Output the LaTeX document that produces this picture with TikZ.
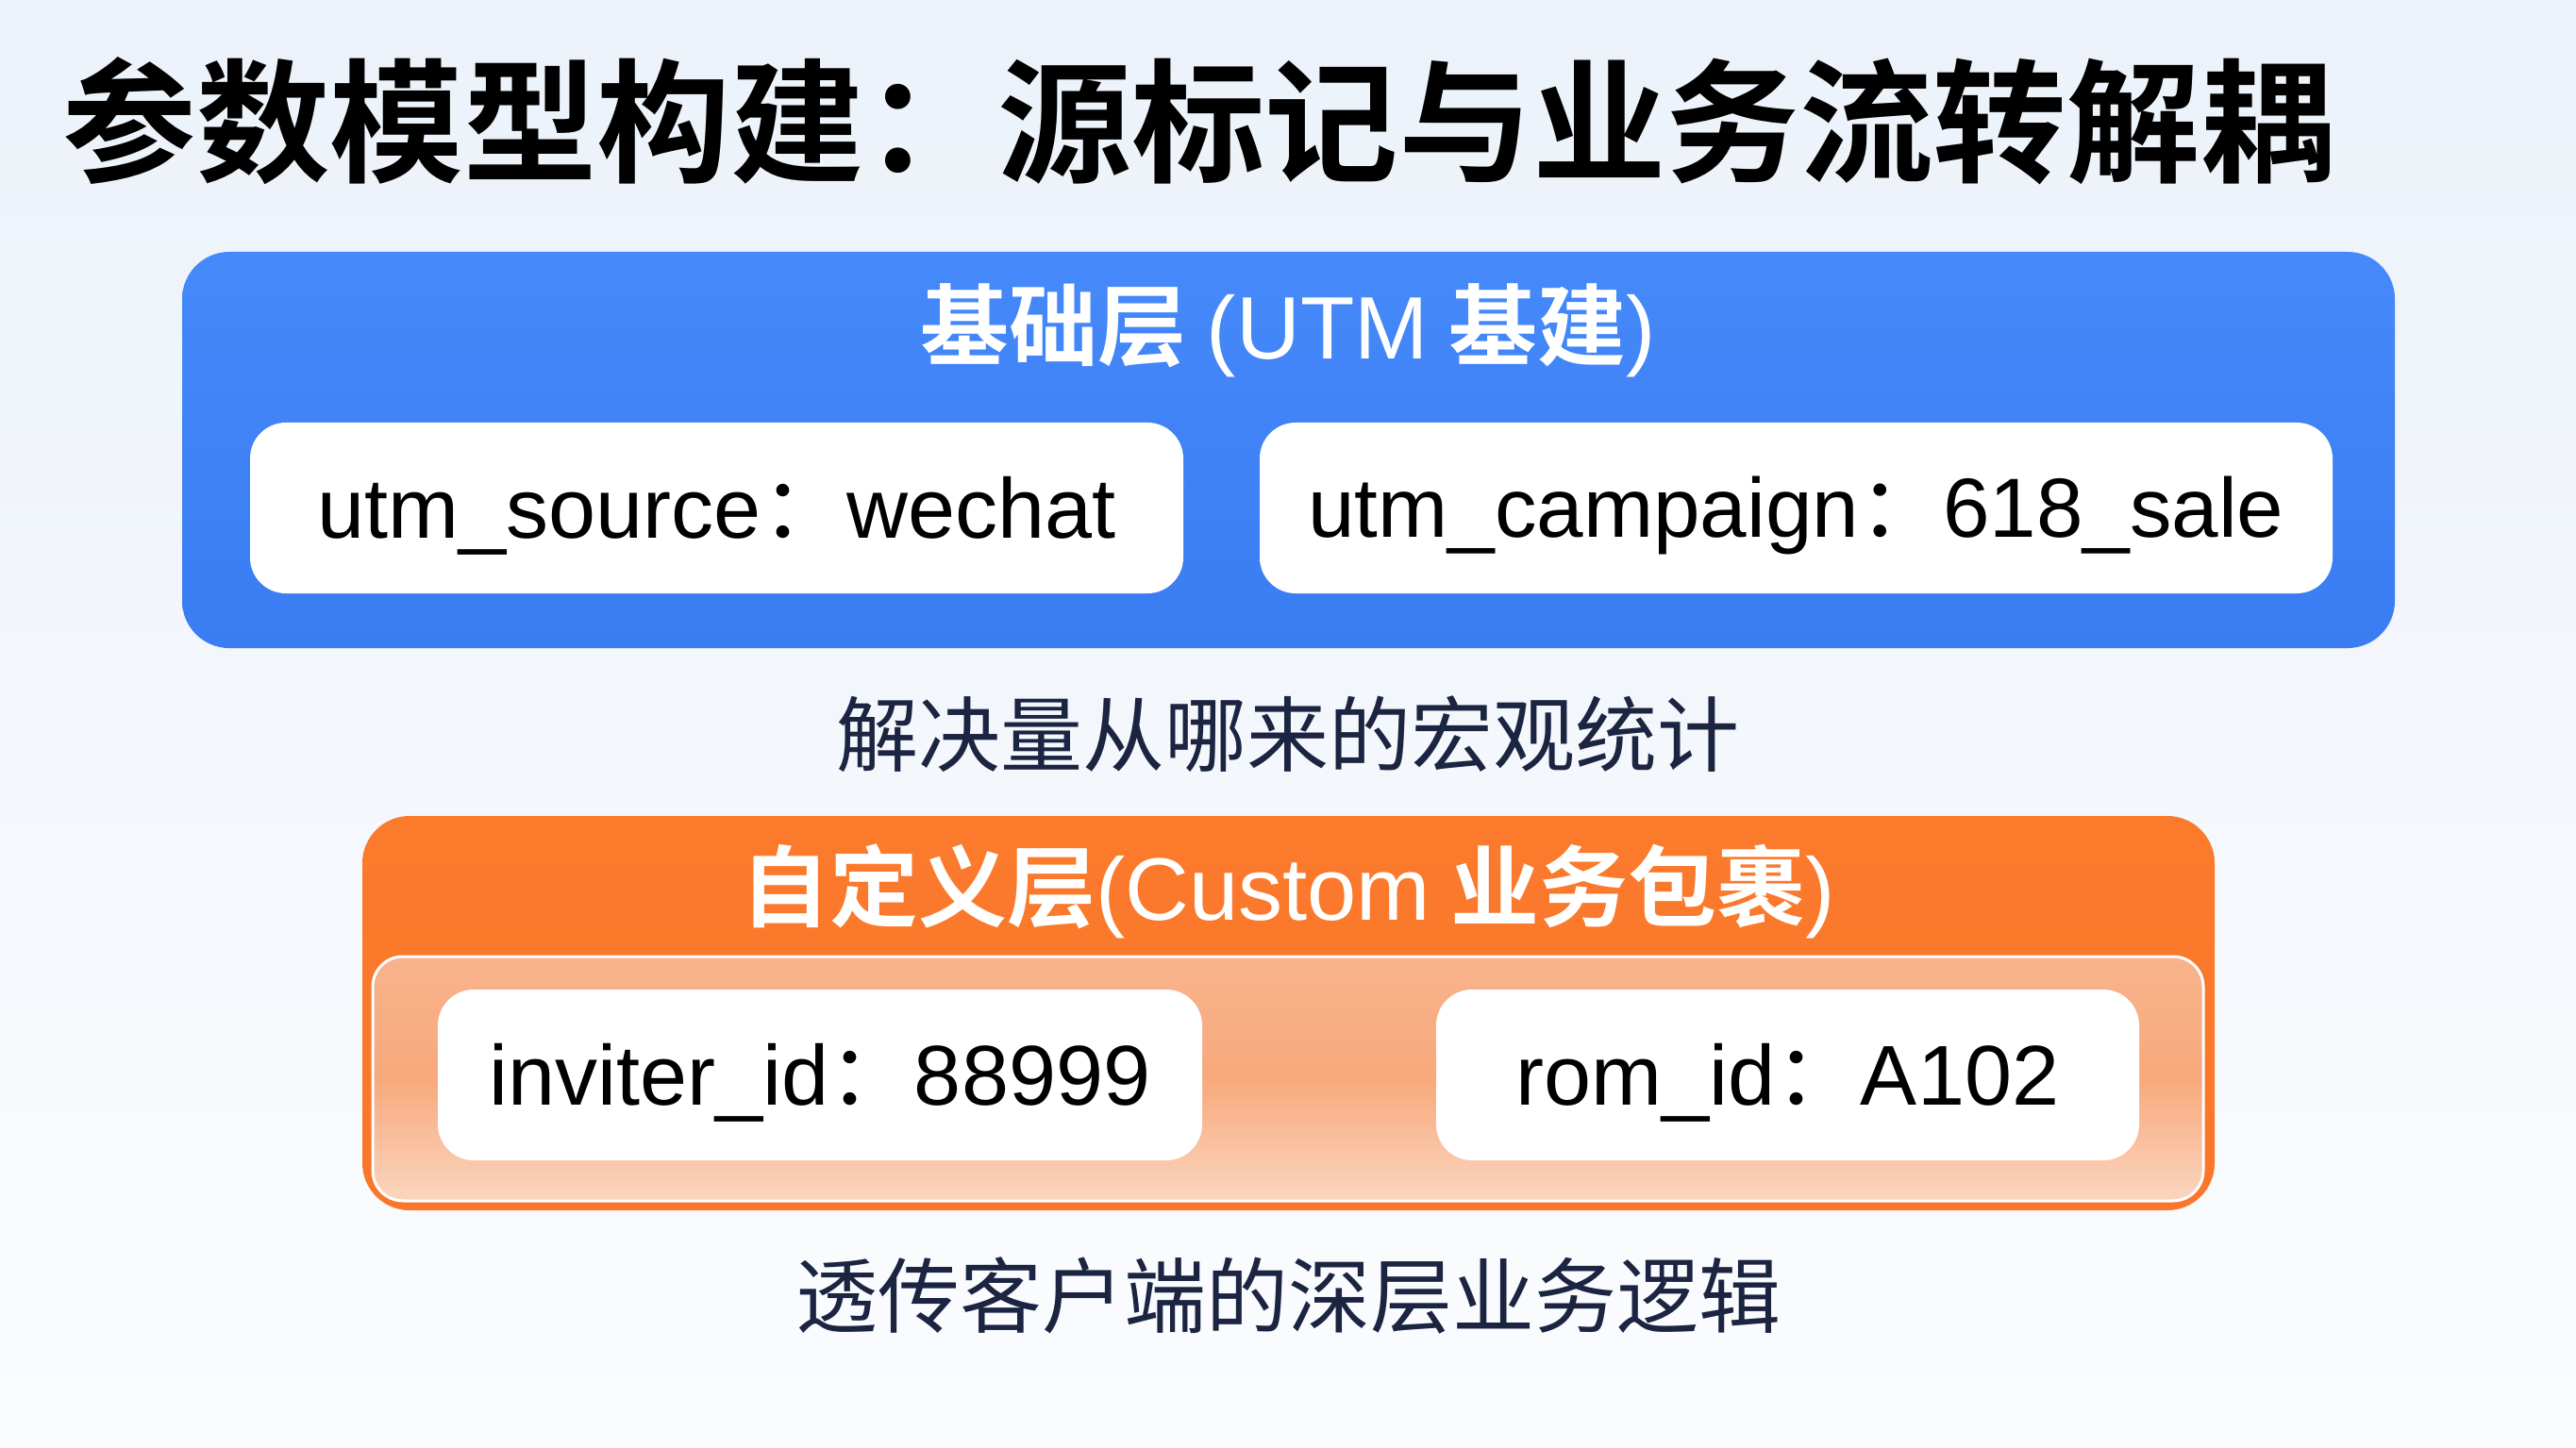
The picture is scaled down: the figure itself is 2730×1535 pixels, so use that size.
\documentclass[tikz,border=0pt]{standalone}
\usepackage{fontspec}
\setmainfont{Liberation Sans}
\newfontfamily\cjk{Noto Sans CJK SC}[BoldFont={* Bold}]
\usetikzlibrary{positioning}
\definecolor{bgtop}{HTML}{ECF2FA}
\definecolor{bgbot}{HTML}{FBFCFE}
\definecolor{blueA}{HTML}{4589FA}
\definecolor{blueB}{HTML}{3A7CF2}
\definecolor{orangeA}{HTML}{FB7A2C}
\definecolor{orangeB}{HTML}{F9762A}
\definecolor{peachA}{HTML}{F8B38C}
\definecolor{peachM}{HTML}{F8A97C}
\definecolor{peachB}{HTML}{FBD6C0}
\definecolor{navy}{HTML}{1B2440}
\tikzset{
  whitebox/.style={fill=white, rounded corners=19pt, minimum height=90.5pt, inner sep=0pt, text=black},
  boxtext/.style={inner sep=0pt, yshift=-4pt, text=black},
  caption/.style={font=\cjk\fontsize{43.5pt}{50pt}\selectfont, text=navy, inner sep=0pt},
  boxtitle/.style={font=\cjk\bfseries\fontsize{47pt}{54pt}\selectfont, text=white, inner sep=0pt},
}
\newcommand{\cc}[1]{{\cjk #1}}
\newcommand{\lt}[1]{\textmd{\fontspec{Liberation Sans}#1}}
\begin{document}
\begin{tikzpicture}[x=0.5pt,y=-0.5pt]
\shade[top color=bgtop, bottom color=bgbot] (0,0) rectangle (2730,1535);
\useasboundingbox (0,0) rectangle (2730,1535);

\node[anchor=west, inner sep=0pt, font=\cjk\bfseries\fontsize{70.8pt}{80pt}\selectfont, text=black] (title) at (66,128) {参数模型构建：源标记与业务流转解耦};

% blue layer
\node[top color=blueA, bottom color=blueB, rounded corners=25pt, minimum width=1172.5pt, minimum height=210pt, inner sep=0pt] (blue) at (1365.5,477) {};
\node[boxtitle] (bluetitle) at (1365,350) {基础层 \lt{(UTM} 基建\lt{)}};
\node[whitebox, minimum width=494.5pt] (src) at (759.5,538.5) {};
\node[boxtext, font=\fontsize{45pt}{50pt}\selectfont] (srct) at (src.center) {utm\_source\cc{：}wechat};
\node[whitebox, minimum width=568.5pt] (camp) at (1903.5,538.5) {};
\node[boxtext, font=\fontsize{44.5pt}{50pt}\selectfont] (campt) at (camp.center) {utm\_campaign\cc{：}618\_sale};

\node[caption] (cap1) at (1365,778) {解决量从哪来的宏观统计};

% orange layer
\node[top color=orangeA, bottom color=orangeB, rounded corners=25pt, minimum width=981.5pt, minimum height=209pt, inner sep=0pt] (orange) at (1365.5,1074) {};
\node[boxtitle] (orangetitle) at (1365,945) {自定义层\lt{(Custom} 业务包裹\lt{)}};
\node[draw=white, line width=1.5pt, top color=peachA, bottom color=peachB, middle color=peachM, rounded corners=16pt, minimum width=970pt, minimum height=129.5pt, inner sep=0pt] (inner) at (1365,1143.5) {};
\node[whitebox, minimum width=405pt] (inv) at (869,1139.5) {};
\node[boxtext, font=\fontsize{45pt}{50pt}\selectfont] (invt) at (inv.center) {inviter\_id\cc{：}88999};
\node[whitebox, minimum width=372.5pt] (rom) at (1894.5,1139.5) {};
\node[boxtext, font=\fontsize{45pt}{50pt}\selectfont] (romt) at (rom.center) {rom\_id\cc{：}A102};

\node[caption] (cap2) at (1365,1373) {透传客户端的深层业务逻辑};
\end{tikzpicture}
\end{document}
